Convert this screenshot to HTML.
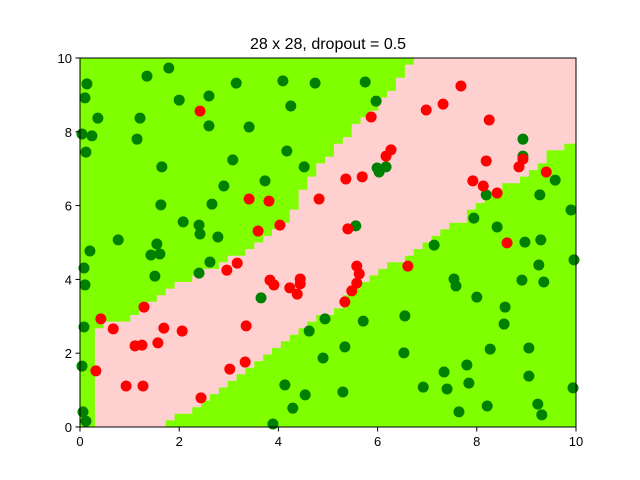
<!DOCTYPE html>
<html><head><meta charset="utf-8"><style>
body{margin:0;background:#fff}
svg{display:block;font-family:"Liberation Sans","DejaVu Sans",sans-serif}
</style></head><body>
<svg id="chart" width="640" height="480">
<text x="328" y="49" text-anchor="middle" font-size="16">28 x 28, dropout = 0.5</text>
<g id="plot"></g>
<g id="axes"></g>
</svg>
<script>
const greenX=[0.14,0.10,0.36,0.04,0.24,0.12,1.35,1.79,2.00,2.60,1.21,1.15,2.60,3.41,3.15,4.09,4.74,4.25,1.65,4.17,3.08,4.52,3.73,2.90,1.63,2.66,2.08,2.40,2.42,2.78,0.77,1.55,5.75,5.97,5.99,6.03,6.17,8.93,8.93,9.58,9.27,9.90,7.94,8.41,8.19,5.56,7.14,8.97,9.29,1.43,1.61,0.20,0.08,0.10,1.51,2.40,2.62,3.65,0.08,0.04,0.06,0.12,4.94,4.62,4.90,4.13,4.54,4.29,3.89,9.96,9.25,9.35,8.91,7.54,7.58,8.00,8.57,8.55,6.55,5.71,5.34,6.53,8.27,9.05,7.80,7.34,9.05,6.92,7.40,7.84,9.94,5.30,8.21,9.23,7.64,9.31];
const greenY=[9.30,8.92,8.37,7.94,7.89,7.45,9.51,9.73,8.86,8.97,8.37,7.80,8.16,8.13,9.32,9.38,9.32,8.70,7.05,7.48,7.24,7.05,6.67,6.53,6.02,6.04,5.56,5.47,5.23,5.15,5.07,4.96,9.35,8.83,7.02,6.91,7.05,7.80,7.34,6.69,6.29,5.88,5.66,5.42,6.29,5.45,4.93,5.01,5.07,4.66,4.69,4.77,4.31,3.85,4.09,4.17,4.47,3.50,2.71,1.65,0.41,0.16,2.93,2.60,1.87,1.14,0.87,0.51,0.08,4.53,4.39,3.93,3.98,4.01,3.82,3.52,3.25,2.79,3.01,2.87,2.17,2.01,2.11,2.14,1.68,1.49,1.38,1.08,1.03,1.19,1.06,0.95,0.57,0.62,0.41,0.33];
const redX=[2.42,3.41,3.81,4.82,3.59,4.03,7.68,7.32,6.98,5.87,8.25,6.27,6.17,5.36,5.69,8.19,8.93,8.85,9.40,7.92,8.13,8.41,5.40,8.61,3.17,2.96,3.83,3.91,4.44,4.44,4.23,4.38,1.29,0.42,0.67,1.69,2.06,3.35,1.11,1.25,1.57,0.32,3.33,3.02,0.93,1.27,2.44,5.58,5.63,6.61,5.58,5.48,5.34];
const redY=[8.56,6.18,6.12,6.18,5.31,5.47,9.24,8.75,8.59,8.40,8.32,7.51,7.34,6.72,6.78,7.21,7.26,7.05,6.91,6.67,6.53,6.34,5.37,4.99,4.44,4.25,3.98,3.85,4.01,3.88,3.77,3.60,3.25,2.93,2.66,2.68,2.60,2.74,2.20,2.22,2.28,1.52,1.76,1.57,1.11,1.11,0.79,4.36,4.15,4.36,3.90,3.69,3.39];
const topBX=[0.3,0.65,1.0,1.55,2.06,2.58,3.17,3.67,4.2,4.74,5.1,5.65,6.0,6.35,6.7,6.9,7.5];
const topBY=[2.5,2.85,2.95,3.5,3.9,4.25,4.66,5.07,5.66,6.9,7.45,8.27,8.7,9.27,9.9,10.2,11];
const botBX=[0,1.6,1.71,2.25,2.78,3.33,3.87,4.4,4.74,5.04,5.6,6.15,6.7,7.06,7.76,8.12,8.5,8.87,9.2,9.58,10];
const botBY=[-1,-0.1,0.1,0.5,0.92,1.46,2.09,2.55,2.9,3.12,3.71,4.3,4.7,5.07,5.66,6.1,6.5,6.75,7.1,7.5,7.75];
const xTicks=[0,2,4,6,8,10], yTicks=[0,2,4,6,8,10];
const L=80,R=576,T=58,B=427;
const sx=v=>L+(v-0)/10*(R-L), sy=v=>B-(v-0)/10*(B-T);
const NS="http://www.w3.org/2000/svg";
function mk(tag,attrs,parent){const e=document.createElementNS(NS,tag);for(const k in attrs)e.setAttribute(k,attrs[k]);parent.appendChild(e);return e;}
function interp(xs,ys,x){if(x<=xs[0])return ys[0];for(let i=1;i<xs.length;i++){if(x<=xs[i]){const t=(x-xs[i-1])/(xs[i]-xs[i-1]);return ys[i-1]+t*(ys[i]-ys[i-1]);}}return ys[ys.length-1];}
const plot=document.getElementById('plot');
const bg=mk('rect',{x:L,y:T,width:R-L,height:B-T,fill:'#7fff00'},plot);


// pink band, stepped
const step=10/56, q=v=>Math.round(v/step)*step;
let up=[],dn=[];
for(let x=0.3;x<10-1e-6;x+=step){
  const x2=Math.min(x+step,10), xm=x+step/2;
  const t=Math.min(10,Math.max(0,q(interp(topBX,topBY,xm))));
  const b=Math.min(10,Math.max(0,q(interp(botBX,botBY,xm))));
  up.push([sx(x),sy(t)],[sx(x2),sy(t)]);
  dn.push([sx(x),sy(b)],[sx(x2),sy(b)]);
}
const poly=up.concat(dn.reverse()).map(p=>p[0].toFixed(1)+','+p[1].toFixed(1)).join(' ');
const band=mk('polygon',{points:poly,fill:'#ffd0d0'},plot);


for(let i=0;i<greenX.length;i++){
  const c=mk('circle',{cx:sx(greenX[i]),cy:sy(greenY[i]),r:5.5,fill:'#008000'},plot);
  
  
}
for(let i=0;i<redX.length;i++){
  const c=mk('circle',{cx:sx(redX[i]),cy:sy(redY[i]),r:5.5,fill:'#ff0000'},plot);
  
  
}
const axes=document.getElementById('axes');
const fr=mk('rect',{x:L,y:T,width:R-L,height:B-T,fill:'none',stroke:'#000','stroke-width':1},axes);


xTicks.forEach(v=>{
  mk('line',{x1:sx(v),x2:sx(v),y1:B,y2:B+4.5,stroke:'#000'},axes);
  const t=mk('text',{x:sx(v),y:B+19,'text-anchor':'middle','font-size':13},axes);
  t.textContent=v;
  
  
});
yTicks.forEach(v=>{
  mk('line',{x1:L-4.5,x2:L,y1:sy(v),y2:sy(v),stroke:'#000'},axes);
  const t=mk('text',{x:L-8,y:sy(v)+5,'text-anchor':'end','font-size':13},axes);
  t.textContent=v;
  
  
});
</script>
</body></html>
